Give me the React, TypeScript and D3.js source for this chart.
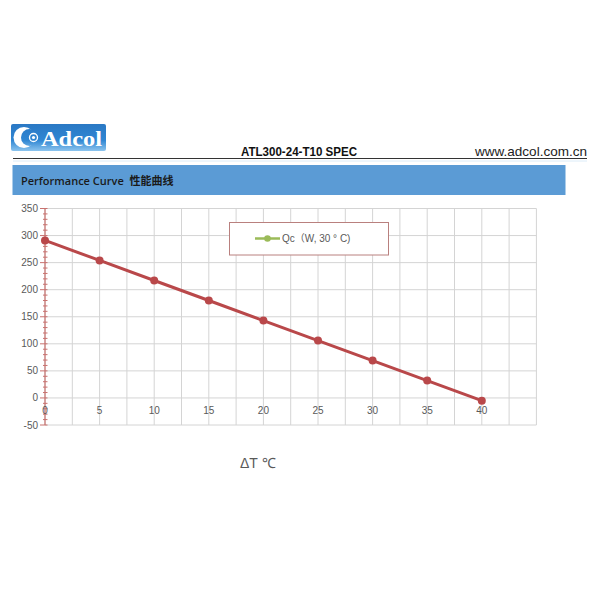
import React from "react";
import * as d3 from "d3";

const xValues = [0, 5, 10, 15, 20, 25, 30, 35, 40];
const qcValues = [291, 254, 217, 180, 143, 106, 69, 32, -5];
const xTickLabels = [0, 5, 10, 15, 20, 25, 30, 35, 40];
const yTickLabels = [-50, 0, 50, 100, 150, 200, 250, 300, 350];
const seriesName = "Qc（W, 30 ° C)";
const headerTitle = "ATL300-24-T10 SPEC";
const headerUrl = "www.adcol.com.cn";
const sectionTitle = "Performance Curve  性能曲线";
const axisTitle = "ΔT ℃";

export default function App() {
  const x = d3.scaleLinear().domain([0, 45]).range([45, 536.4]);
  const y = d3.scaleLinear().domain([-50, 350]).range([425, 208.5]);
  const xGrid = d3.range(0, 45.01, 2.5);
  const yMinor = d3.range(-50, 350.01, 10);
  const line = d3
    .line<number>()
    .x((_, i) => x(xValues[i]))
    .y((d) => y(d));
  const font = "'Liberation Sans', Arial, sans-serif";
  const lineColor = "#b9484a";
  const axisColor = "#c8726f";
  return (
    <svg
      width={600}
      height={600}
      style={{ position: "absolute", left: 0, top: 0, background: "#fff" }}
    >
      <defs>
        <linearGradient id="logoG" gradientUnits="userSpaceOnUse" x1="0" y1="124" x2="0" y2="151">
          <stop offset="0" stopColor="#2a78c4" />
          <stop offset="0.6" stopColor="#2f86d3" />
          <stop offset="1" stopColor="#8cc4ee" />
        </linearGradient>
      </defs>
      {/* Logo */}
      <rect x={11} y={124} width={95} height={27} rx={2} fill="url(#logoG)" />
      <circle cx={24} cy={137.5} r={10.5} fill="#fff" />
      <circle cx={29.5} cy={137.5} r={8.5} fill="url(#logoG)" />
      <circle cx={33.5} cy={137.5} r={4} fill="none" stroke="#fff" strokeWidth={1.3} />
      <circle cx={33.5} cy={137.5} r={1.6} fill="#fff" />
      <text
        x={41}
        y={146}
        fontFamily="'Liberation Serif', serif"
        fontWeight="bold"
        fontSize={22}
        fill="#fff"
        textLength={61}
        lengthAdjust="spacingAndGlyphs"
      >
        Adcol
      </text>
      {/* Header line */}
      <line x1={13} x2={587} y1={158.5} y2={158.5} stroke="#333" strokeWidth={1} />
      <line x1={13} x2={587} y1={161} y2={161} stroke="#dcecf8" strokeWidth={1} />
      <text
        x={241}
        y={156}
        fontFamily={font}
        fontWeight="bold"
        fontSize={12}
        fill="#111"
        textLength={116}
        lengthAdjust="spacingAndGlyphs"
      >
        {headerTitle}
      </text>
      <text
        x={475}
        y={156}
        fontFamily={font}
        fontSize={13}
        fill="#222"
        textLength={112}
        lengthAdjust="spacingAndGlyphs"
      >
        {headerUrl}
      </text>
      {/* Blue section bar */}
      <rect x={12.5} y={165} width={553} height={30} fill="#5b9bd5" />
      <text
        x={21}
        y={185}
        fontFamily={"'Open Sans', 'Noto Sans CJK SC', sans-serif"}
        fontSize={11}
        fontWeight={600}
        fill="#1a1a1a"
        style={{ whiteSpace: "pre" }}
      >
        {sectionTitle}
      </text>
      {/* Grid */}
      {xGrid.map((v) => (
        <line
          key={"gx" + v}
          x1={x(v)}
          x2={x(v)}
          y1={y(350)}
          y2={y(-50)}
          stroke="#d4d4d4"
          strokeWidth={1}
        />
      ))}
      {yTickLabels.map((v) => (
        <line
          key={"gy" + v}
          x1={x(0)}
          x2={x(45)}
          y1={y(v)}
          y2={y(v)}
          stroke="#d4d4d4"
          strokeWidth={1}
        />
      ))}
      {/* Y axis */}
      <line x1={x(0)} x2={x(0)} y1={y(350)} y2={y(-50)} stroke={axisColor} strokeWidth={1.2} />
      {yMinor.map((v) => (
        <line
          key={"ym" + v}
          x1={x(0) - (v % 50 === 0 ? 5 : 2)}
          x2={x(0) + 2.5}
          y1={y(v)}
          y2={y(v)}
          stroke={axisColor}
          strokeWidth={1}
        />
      ))}
      {yTickLabels.map((v) => (
        <text
          key={"yl" + v}
          x={x(0) - 7}
          y={y(v) + 3.5}
          textAnchor="end"
          fontFamily={font}
          fontSize={10}
          fill="#595959"
        >
          {v}
        </text>
      ))}
      {xTickLabels.map((v) => (
        <text
          key={"xl" + v}
          x={x(v)}
          y={y(0) + 16}
          textAnchor="middle"
          fontFamily={font}
          fontSize={10}
          fill="#595959"
        >
          {v}
        </text>
      ))}
      {/* Series */}
      <path d={line(qcValues) || ""} fill="none" stroke={lineColor} strokeWidth={3} />
      {qcValues.map((v, i) => (
        <circle key={"p" + i} cx={x(xValues[i])} cy={y(v)} r={4} fill={lineColor} />
      ))}
      {/* Legend */}
      <rect x={229.5} y={222.5} width={159} height={32.5} fill="#fff" stroke="#b9807e" strokeWidth={1} />
      <line x1={255} x2={280} y1={238.5} y2={238.5} stroke="#9bbb59" strokeWidth={2.5} />
      <circle cx={267.5} cy={238.5} r={3.3} fill="#9bbb59" />
      <text
        x={282}
        y={242}
        fontFamily={"'Liberation Sans', 'Noto Sans CJK SC', sans-serif"}
        fontSize={10}
        fill="#595959"
      >
        {seriesName}
      </text>
      {/* Axis title */}
      <text x={240} y={468} fontFamily={font} fontSize={14} fill="#595959" style={{ whiteSpace: "pre" }}>
        {axisTitle}
      </text>
    </svg>
  );
}
